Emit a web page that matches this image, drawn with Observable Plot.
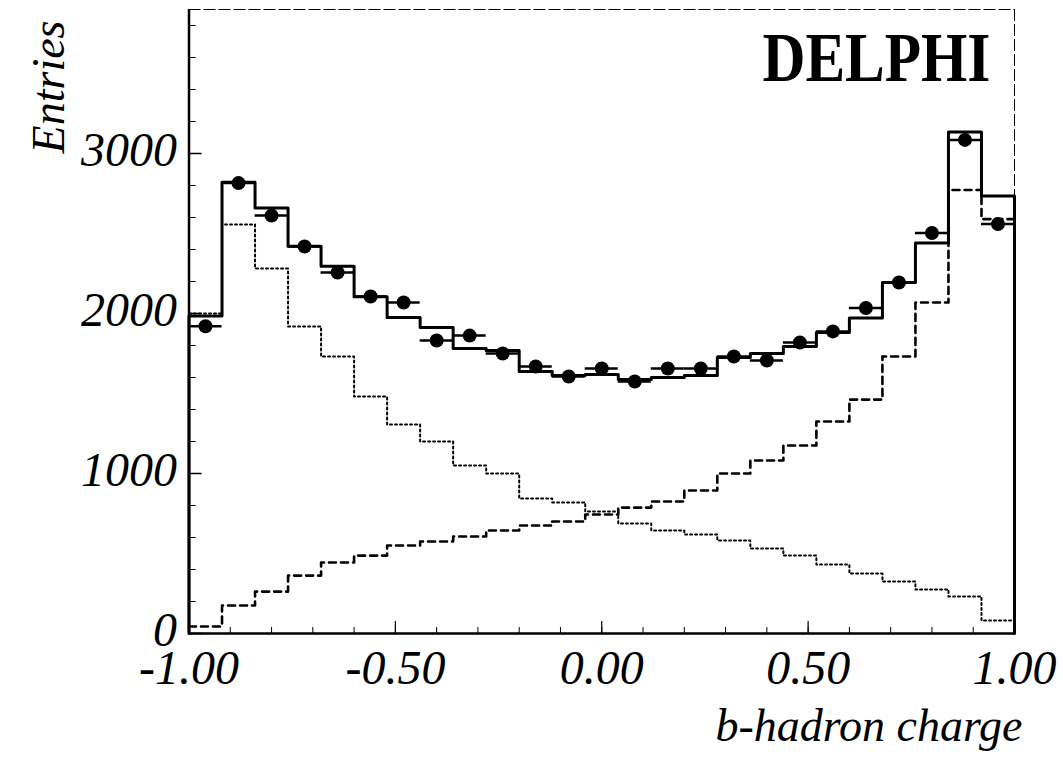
<!DOCTYPE html>
<html><head><meta charset="utf-8">
<script src="https://cdn.jsdelivr.net/npm/d3@7"></script>
<script src="https://cdn.jsdelivr.net/npm/@observablehq/plot@0.6"></script>
<style>body{margin:0;background:#fff;}</style>
</head><body><div id="chart"></div>
<script>
// 25 bins of width 0.08 from -1 to 1
const binLo = -1, binWidth = 0.08;
const totalMC = [1985, 2820, 2660, 2420, 2295, 2105, 1975, 1912, 1781, 1769, 1637, 1612, 1619, 1587, 1600, 1612, 1725, 1750, 1794, 1881, 1972, 2194, 2441, 3135, 2735];
const dataPts = [1920, 2815, 2612, 2419, 2256, 2106, 2069, 1831, 1862, 1750, 1669, 1606, 1656, 1575, 1656, 1656, 1731, 1706, 1819, 1888, 2034, 2194, 2503, 3085, 2559];
const componentDashed = [44, 175, 262, 362, 444, 487, 550, 575, 606, 644, 675, 700, 744, 787, 825, 894, 1000, 1081, 1175, 1325, 1462, 1731, 2069, 2772, 2590];
const componentDotted = [2000, 2556, 2281, 1919, 1731, 1481, 1306, 1200, 1050, 1000, 844, 819, 762, 687, 644, 619, 581, 531, 487, 431, 375, 325, 275, 231, 81];
const yTickLabels = [0, 1000, 2000, 3000];
const xTickLabels = [-1, -0.5, 0, 0.5, 1];
const yMinorTicks = d3.range(0, 3900, 200);
const xMinorTicks = d3.range(0, 21).map(i => -1 + i * 0.1);

function stepPoints(vals, closed) {
  const pts = [];
  if (closed) pts.push({x: -1, y: 0});
  vals.forEach((v, i) => pts.push({x: binLo + i * binWidth, y: v}));
  pts.push({x: 1, y: vals[vals.length - 1]});
  if (closed) pts.push({x: 1, y: 0});
  return pts;
}
const points = dataPts.map((v, i) => ({
  v, c: binLo + (i + 0.5) * binWidth, lo: binLo + i * binWidth, hi: binLo + (i + 1) * binWidth
}));

const W = 1063, H = 759, mL = 188.5, mR = 49, mT = 9, mB = 126;
const fw = W - mL - mR, fh = H - mT - mB;
const font = "'Liberation Serif', 'DejaVu Serif', serif";

const chart = Plot.plot({
  width: W, height: H,
  marginLeft: mL, marginRight: mR, marginTop: mT, marginBottom: mB,
  x: {domain: [-1, 1], axis: null},
  y: {domain: [0, 3900], axis: null},
  style: {background: "white", fontFamily: font, color: "black"},
  marks: [
    Plot.ruleX([1], {strokeWidth: 1, strokeDasharray: "12,3"}),
    Plot.ruleY([3900], {strokeWidth: 1, strokeDasharray: "12,3"}),
    Plot.tickY(yMinorTicks, {y: d => d, insetRight: fw - 7, strokeWidth: 1}),
    Plot.tickY(yTickLabels, {y: d => d, insetRight: fw - 13, strokeWidth: 1.5}),
    Plot.tickX(xMinorTicks, {x: d => d, insetTop: fh - 6, strokeWidth: 1}),
    Plot.tickX(xTickLabels, {x: d => d, insetTop: fh - 12, strokeWidth: 1.2}),
    Plot.line(stepPoints(componentDotted), {x: "x", y: "y", curve: "step-after", strokeWidth: 2, strokeDasharray: "2,3"}),
    Plot.line(stepPoints(componentDashed), {x: "x", y: "y", curve: "step-after", strokeWidth: 2.6, strokeDasharray: "7,5"}),
    Plot.line(stepPoints(totalMC, true), {x: "x", y: "y", curve: "step-after", strokeWidth: 3}),
    Plot.ruleX([-1], {strokeWidth: 2.5}),
    Plot.ruleY([0], {strokeWidth: 2.5}),
    Plot.ruleY(points, {y: "v", x1: "lo", x2: "hi", strokeWidth: 2.5}),
    Plot.dot(points, {x: "c", y: "v", r: 7, fill: "black"}),
    Plot.text(yTickLabels, {x: -1, y: d => d, text: d => String(d), textAnchor: "end", dx: -12, dy: -3, fontSize: 48, fontStyle: "italic"}),
    Plot.text(xTickLabels, {x: d => d, y: 0, text: d => d.toFixed(2), lineAnchor: "top", dy: 16, fontSize: 48, fontStyle: "italic"}),
    Plot.text(["Entries"], {frameAnchor: "top-left", rotate: -90, textAnchor: "end", dx: -158, dy: 11, fontSize: 46, fontStyle: "italic"}),
    Plot.text(["b-hadron charge"], {frameAnchor: "bottom-right", textAnchor: "end", lineAnchor: "top", dx: 8, dy: 75, fontSize: 46, fontStyle: "italic"}),
    Plot.text(["DELPHI"], {frameAnchor: "top-right", textAnchor: "end", lineAnchor: "top", dx: -24, dy: 22, fontSize: 70, fontWeight: "bold"})
  ]
});
chart.querySelectorAll("text").forEach(t => {
  if (t.textContent === "DELPHI") {
    t.setAttribute("textLength", 228);
    t.setAttribute("lengthAdjust", "spacingAndGlyphs");
  }
});
document.getElementById("chart").appendChild(chart);
</script>
</body></html>
